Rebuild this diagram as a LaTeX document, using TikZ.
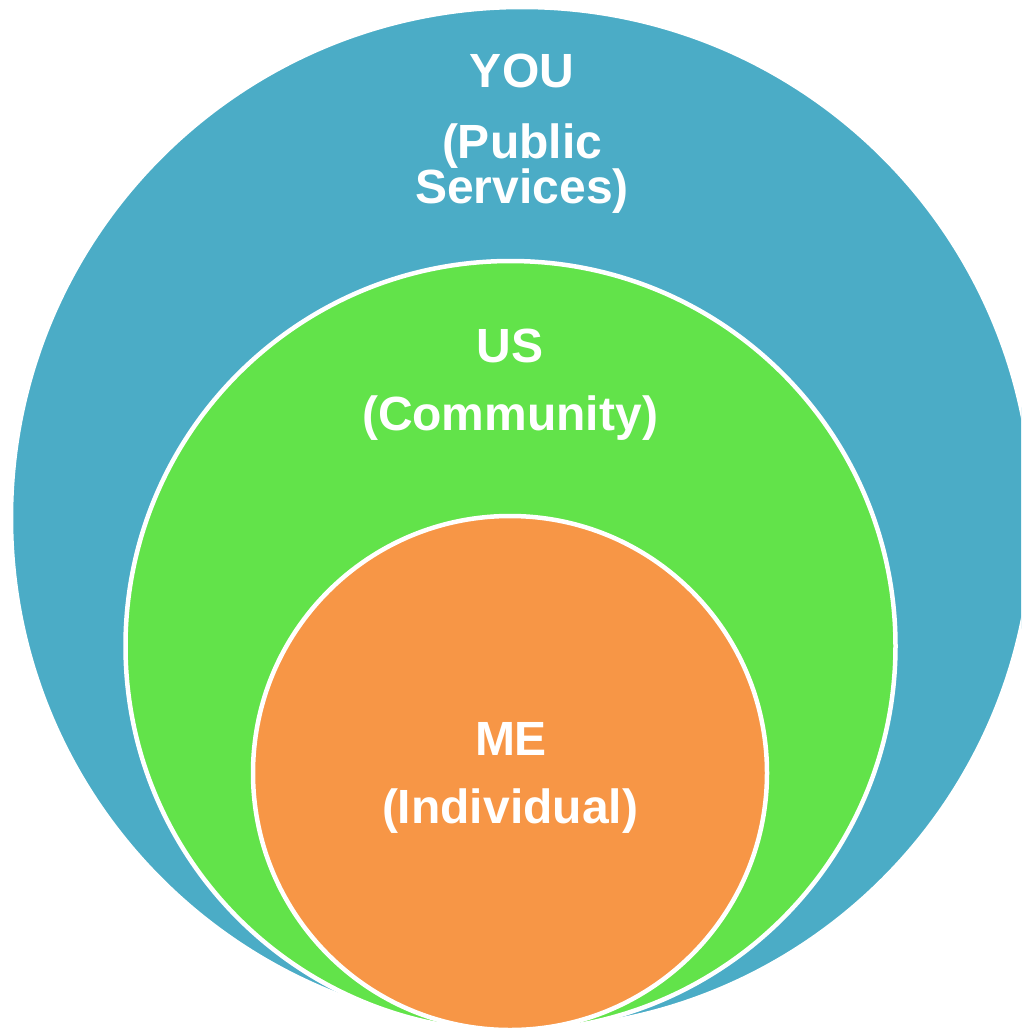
\documentclass[tikz,border=0pt]{standalone}
\usepackage{fontspec}
\setmainfont{Liberation Sans}
\definecolor{youblue}{HTML}{4BACC6}
\definecolor{usgreen}{HTML}{62E34A}
\definecolor{meorange}{HTML}{F79646}
\tikzset{
  ring/.style = {draw=white, line width=4.5pt},
  lbl/.style = {anchor=base, inner sep=0pt, text=white, font=\fontsize{48}{50}\selectfont\bfseries}
}
\begin{document}
\begin{tikzpicture}[x=1pt,y=-1pt]
    \useasboundingbox (0,0) rectangle (1021,1028);
    \fill[white] (0,0) rectangle (1021,1028);
    \clip (0,0) rectangle (1021,1028);
    % circles, outer to inner
    \filldraw[ring, fill=youblue] (522,518) circle[radius=511];
    \filldraw[ring, fill=usgreen] (510.5,646) circle[radius=385];
    \filldraw[ring, fill=meorange] (510,773) circle[radius=257];
    % labels
    \node[lbl] (you) at (522,87) {YOU};
    \node[lbl] (public) at (522,158) {(Public};
    \node[lbl] (services) at (522,203) {Services)};
    \node[lbl] (us) at (510,362) {US};
    \node[lbl] (community) at (510,430) {(Community)};
    \node[lbl] (me) at (511,755) {ME};
    \node[lbl] (individual) at (510,823) {(Individual)};
\end{tikzpicture}
\end{document}
